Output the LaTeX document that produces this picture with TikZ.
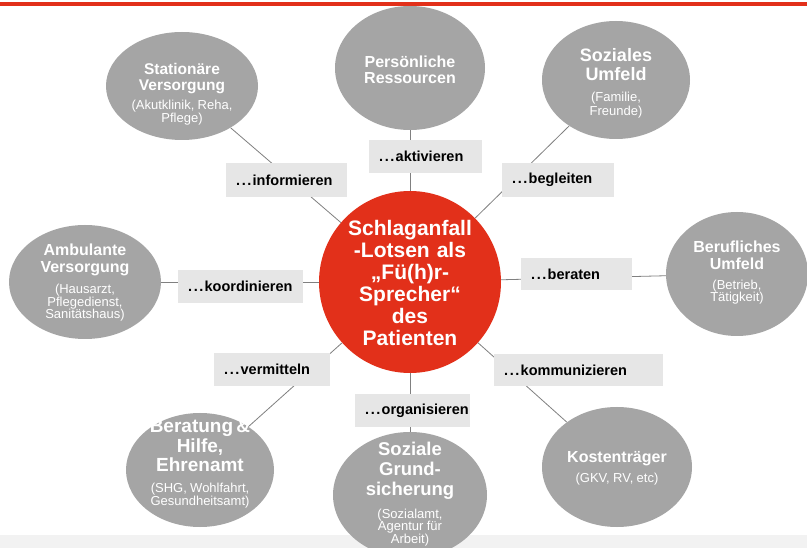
\documentclass[tikz,border=0pt]{standalone}
\usepackage{fontspec}
\setmainfont{Liberation Sans}
\usetikzlibrary{shapes.geometric}
\definecolor{ellgray}{HTML}{A5A5A5}
\definecolor{boxgray}{HTML}{E6E6E6}
\definecolor{lotsred}{HTML}{E2301A}
\definecolor{linegray}{HTML}{808080}
\definecolor{bandgray}{HTML}{F2F2F2}
\pgfdeclarelayer{bg}
\pgfsetlayers{bg,main}
\newcommand\mydots{.\kern1.6pt.\kern1.6pt.\kern1.2pt}
\newcommand\fsz[2]{\fontsize{#1}{#2}\selectfont}
\tikzset{
  ell/.style={ellipse, fill=ellgray, inner sep=0pt, draw=none},
  etxt/.style={text=white, text width=#1, align=center, inner sep=0pt},
  lbl/.style={fill=boxgray, inner xsep=10pt, inner ysep=0pt, anchor=west, align=left,
    font=\bfseries\fsz{14.5}{16}},
  conn/.style={draw=linegray, line width=0.8pt}
}
\begin{document}
\begin{tikzpicture}[x=1pt,y=-1pt]
\setlength{\parskip}{0pt}
\useasboundingbox (0,0) rectangle (807,548);
\begin{pgfonlayer}{bg}
  \fill[white] (0,0) rectangle (807,548);
  \fill[lotsred] (0,2) rectangle (807,6);
  \fill[bandgray] (0,535) rectangle (807,548);
\end{pgfonlayer}

% centre
\node[circle, fill=lotsred, minimum size=182pt, inner sep=0pt] (c) at (410,282) {};
\node[etxt=176pt, font=\bfseries\fsz{21}{22}] (ct) at (410,283)
  {Schlaganfall\\-Lotsen als\\„Fü(h)r-\\Sprecher“\\des\\Patienten};

% ellipses
\node[ell, minimum width=152pt, minimum height=108pt] (e1) at (182,86) {};
\node[ell, minimum width=150pt, minimum height=124pt] (e2) at (410,68) {};
\node[ell, minimum width=148pt, minimum height=118pt] (e3) at (616,80) {};
\node[ell, minimum width=152pt, minimum height=114pt] (e4) at (85,282) {};
\node[ell, minimum width=142pt, minimum height=124pt] (e5) at (737,274) {};
\node[ell, minimum width=148pt, minimum height=114pt] (e6) at (200,470) {};
\node[ell, minimum width=154pt, minimum height=126pt] (e7) at (410,495) {};
\node[ell, minimum width=150pt, minimum height=120pt] (e8) at (617,467) {};

% ellipse texts
\node[etxt=150pt] (t1) at (182,94)
  {{\fsz{15.5}{15.5}\bfseries Stationäre\\Versorgung\par}\vspace{6pt}{\fsz{13}{13}(Akutklinik, Reha,\\Pflege)\par}};
\node[etxt=150pt] (t2) at (410,70)
  {{\fsz{16}{16}\bfseries Persönliche\\Ressourcen\par}};
\node[etxt=148pt] (t3) at (616,83)
  {{\fsz{18}{19}\bfseries Soziales\\Umfeld\par}\vspace{8pt}{\fsz{13}{13.5}(Familie,\\Freunde)\par}};
\node[etxt=150pt] (t4) at (85,283)
  {{\fsz{16}{16.5}\bfseries Ambulante\\Versorgung\par}\vspace{7pt}{\fsz{13}{12.8}(Hausarzt,\\Pflegedienst,\\Sanitätshaus)\par}};
\node[etxt=142pt] (t5) at (737,273)
  {{\fsz{16}{16.5}\bfseries Berufliches\\Umfeld\par}\vspace{7pt}{\fsz{13}{12.8}(Betrieb,\\Tätigkeit)\par}};
\node[etxt=148pt] (t6) at (200,464)
  {{\fsz{19}{19.5}\bfseries Beratung \&\\Hilfe,\\Ehrenamt\par}\vspace{8pt}{\fsz{13}{13}(SHG, Wohlfahrt,\\Gesundheitsamt)\par}};
\node[etxt=154pt] (t7) at (410,494)
  {{\fsz{18.5}{20}\bfseries Soziale\\Grund-\\sicherung\par}\vspace{8pt}{\fsz{13}{12.5}(Sozialamt,\\Agentur für\\Arbeit)\par}};
\node[etxt=150pt] (t8) at (617,468)
  {{\fsz{16}{17}\bfseries Kostenträger\par}\vspace{7pt}{\fsz{13}{13}(GKV, RV, etc)\par}};

% label boxes
\node[lbl, minimum height=33pt, text width=93pt] (b1) at (369,156.5) {\mydots aktivieren};
\node[lbl, minimum height=34pt, text width=101pt] (b2) at (226,180) {\mydots informieren};
\node[lbl, minimum height=34pt, text width=92pt] (b3) at (502,180) {\mydots begleiten};
\node[lbl, minimum height=33pt, text width=105pt] (b4) at (178,286.5) {\mydots koordinieren};
\node[lbl, minimum height=32pt, text width=91pt] (b5) at (521,274) {\mydots beraten};
\node[lbl, minimum height=33pt, text width=96pt] (b6) at (214,369.5) {\mydots vermitteln};
\node[lbl, minimum height=32pt, text width=149pt] (b7) at (494,370) {\mydots kommunizieren};
\node[lbl, minimum height=33pt, text width=95pt] (b8) at (355,410.5) {\mydots organisieren};

% connectors
\begin{pgfonlayer}{bg}
  \draw[conn] (e1) -- (c);
  \draw[conn] (e2) -- (c);
  \draw[conn] (e3) -- (c);
  \draw[conn] (e4) -- (c);
  \draw[conn] (e5) -- (c);
  \draw[conn] (e6) -- (c);
  \draw[conn] (e7) -- (c);
  \draw[conn] (e8) -- (c);
\end{pgfonlayer}
\end{tikzpicture}
\end{document}
